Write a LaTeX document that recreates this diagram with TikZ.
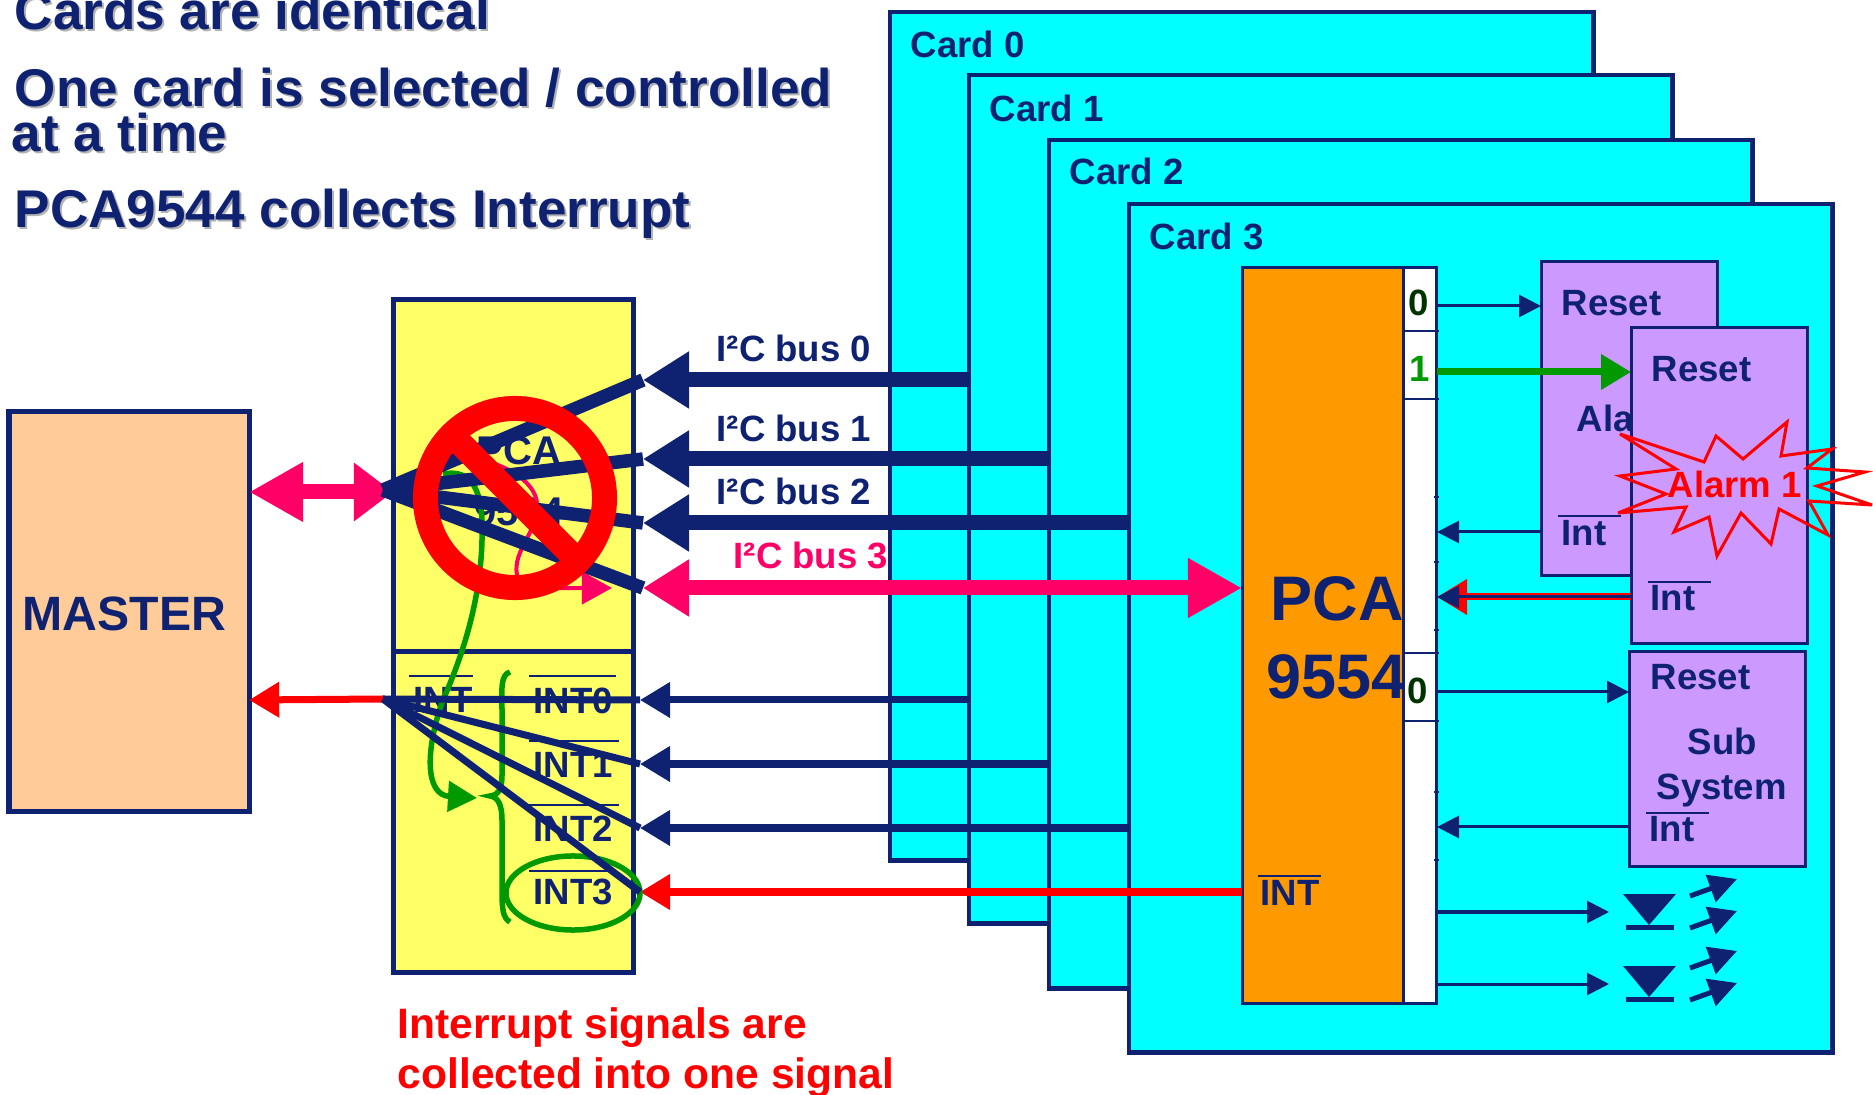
\documentclass[tikz,border=0pt]{standalone}
\usepackage{fontspec}
\setmainfont{Liberation Sans}
\usetikzlibrary{arrows.meta, shapes.geometric}
\definecolor{navy}{HTML}{0F2272}
\definecolor{cardcyan}{HTML}{00FFFF}
\definecolor{pinkish}{HTML}{FF0066}
\definecolor{greenish}{HTML}{009900}
\definecolor{darkgreen}{HTML}{003300}
\definecolor{peach}{HTML}{FFCC99}
\definecolor{paleyellow}{HTML}{FFFF66}
\definecolor{chiporange}{HTML}{FF9900}
\definecolor{purplish}{HTML}{CC99FF}
\begin{document}
\begin{tikzpicture}[x=0.01cm, y=-0.01cm,
    box/.style={draw=navy, inner sep=0pt, outer sep=0pt, anchor=north west},
    cardbox/.style={box, fill=cardcyan, line width=0.045cm, minimum width=7.03cm, minimum height=8.48cm},
    subbox/.style={box, fill=purplish, line width=0.03cm},
    lbl/.style={anchor=base west, inner sep=0pt, text=navy, font=\bfseries\fontsize{10.4pt}{12pt}\selectfont},
    titletxt/.style={lbl, font=\bfseries\fontsize{15.1pt}{18pt}\selectfont},
    titleshade/.style={titletxt, text=black!30},
    redtxt/.style={lbl, text=red, font=\bfseries\fontsize{12.1pt}{15pt}\selectfont},
    bigtxt/.style={lbl, font=\bfseries\fontsize{17.9pt}{21pt}\selectfont},
    barline/.style={navy, line width=0.025cm},
    thinarrow/.style={navy, line width=0.03cm, -{Triangle[length=0.22cm, width=0.22cm]}},
    midarrow/.style={line width=0.07cm, -{Triangle[length=0.3cm, width=0.34cm]}},
    busarrow/.style={line width=0.15cm, -{Triangle[length=0.46cm, width=0.54cm]}},
    fanthick/.style={navy, line width=0.135cm},
    fanthin/.style={navy, line width=0.07cm},
    greencurve/.style={greenish, line width=0.055cm},
    ledray/.style={navy, line width=0.05cm, -{Triangle[length=0.28cm, width=0.28cm]}}]
  \useasboundingbox (0,0) rectangle (1873,1095);
  \clip (0,0) rectangle (1873,1095);

  % title lines with their grey shadow
  \foreach \n/\x/\y/\t in {0/14/30/{Cards are identical}, 1/14/107/{One card is selected / controlled},
                           2/11/152/{at a time}, 3/14/228/{PCA9544 collects Interrupt}} {
    \node[titleshade] (shade\n) at ({\x+2},{\y+2}) {\t};
    \node[titletxt]   (title\n) at (\x,\y) {\t};}

  % the four cards, back to front
  \foreach \n/\x/\y/\b in {0/890/12/58, 1/969/75/122, 2/1049/140/185, 3/1129/204/250} {
    \node[cardbox] (card\n) at (\x,\y) {};
    \node[lbl] (cardlbl\n) at ({\x+20},\b) {Card \n};}

  % the chip on card 3 and its output strip
  \node[box, fill=chiporange, line width=0.03cm, minimum width=1.61cm, minimum height=7.35cm] (chip) at (1242,268) {};
  \node[bigtxt] (chipa) at (1270,621) {PCA};
  \node[bigtxt] (chipb) at (1266,699) {9554};
  \node[box, fill=white, line width=0.03cm, minimum width=0.33cm, minimum height=7.35cm] (strip) at (1403,268) {};
  \foreach \y in {331, 399, 653, 721}
    \draw[barline] (1403,\y) -- (1439,\y);
  \foreach \y in {497, 562, 630, 792, 860}
    \draw[barline] (1434,\y) -- (1439,\y);
  \node[lbl, text=darkgreen] (pin0) at (1408,316) {0};
  \node[lbl, text=greenish]  (pin1) at (1409,382) {1};
  \node[lbl, text=darkgreen] (pin2) at (1407,704) {0};
  \node[lbl] (chipint) at (1260,906) {INT};
  \draw[barline] (1258,876) -- (1321,876);

  % the sub systems
  \node[subbox, minimum width=1.76cm, minimum height=3.13cm] (alarmz) at (1541,262) {};
  \node[lbl] (resetz) at (1561,316) {Reset};
  \node[lbl] (alaz)   at (1576,432) {Ala};
  \node[lbl] (intz)   at (1561,546) {Int};
  \draw[barline] (1558,516) -- (1621,516);
  \node[subbox, minimum width=1.76cm, minimum height=3.15cm] (alarma) at (1631,328) {};
  \node[lbl] (reseta) at (1651,382) {Reset};
  \node[lbl] (inta)   at (1650,611) {Int};
  \draw[barline] (1648,582) -- (1711,582);
  \node[subbox, minimum width=1.76cm, minimum height=2.14cm] (subsys) at (1629,652) {};
  \node[lbl] (resets) at (1650,690) {Reset};
  \node[lbl] (subs)   at (1687,755) {Sub};
  \node[lbl] (syss)   at (1656,800) {System};
  \node[lbl] (ints)   at (1649,841) {Int};
  \draw[barline] (1646,813) -- (1709,813);

  % lines between the strip and the sub systems
  \coordinate (sz) at (1437,306);
  \coordinate (sa) at (1437,372);
  \coordinate (iz) at (1437,532);
  \coordinate (ia) at (1437,597);
  \coordinate (ss) at (1437,692);
  \coordinate (is) at (1437,827);
  \coordinate (led0) at (1609,912);
  \coordinate (led1) at (1609,984);
  \draw[thinarrow] (sz) -- (sz -| alarmz.west);
  \draw[midarrow, greenish] (sa) -- (sa -| alarma.west);
  \draw[thinarrow] (iz -| alarmz.west) -- (iz);
  \draw[midarrow, red] (ia -| alarma.west) -- (ia);
  \draw[thinarrow] (ia -| alarma.west) -- (ia);
  \draw[thinarrow] (ss) -- (ss -| subsys.west);
  \draw[thinarrow] (is -| subsys.west) -- (is);
  \draw[thinarrow] (led0 -| strip.east) -- (led0);
  \draw[thinarrow] (led1 -| strip.east) -- (led1);

  % two LEDs and their rays
  \foreach \o in {0, 72} {
    \fill[navy] (1623,{894+\o}) -- (1676,{894+\o}) -- (1649,{925+\o}) -- cycle;
    \fill[navy] (1626,{925+\o}) rectangle (1674,{930+\o});}
  \foreach \o in {0, 32, 72, 104}
    \draw[ledray] (1690,{896+\o}) -- (1737,{879+\o});

  % alarm burst on top of the front box
  \draw[red, line width=0.03cm, line join=miter, miter limit=6]
    (1620,434) -- (1704,462) -- (1716,436) -- (1743,459) -- (1787,422) -- (1781,456) -- (1832,449) -- (1807,468)
    -- (1865,472) -- (1817,486) -- (1872,505) -- (1809,501) -- (1828,535) -- (1779,509) -- (1771,544) -- (1741,513)
    -- (1717,556) -- (1709,517) -- (1674,532) -- (1686,507) -- (1618,513) -- (1666,494) -- (1620,476) -- (1676,469) -- cycle;
  \node[lbl, text=red] (alarmtxt) at (1667,498) {Alarm 1};

  % master and the switch with its interrupt part
  \node[box, fill=peach, line width=0.05cm, minimum width=2.4cm, minimum height=3.99cm] (master) at (9,412) {};
  \node[lbl, font=\bfseries\fontsize{13.7pt}{16pt}\selectfont] (mastertxt) at (22,631) {MASTER};
  \node[box, fill=paleyellow, line width=0.05cm, minimum width=2.4cm, minimum height=3.52cm] (mux) at (393,300) {};
  \node[box, fill=paleyellow, line width=0.05cm, minimum width=2.4cm, minimum height=3.2cm] (muxint) at (393,652) {};
  \node[lbl, font=\bfseries\fontsize{11.4pt}{14pt}\selectfont] (muxa) at (476,465) {PCA};
  \node[lbl, font=\bfseries\fontsize{11.4pt}{14pt}\selectfont] (muxb) at (474,526) {9544};
  \node[lbl] (intout) at (413,713) {INT};
  \draw[barline] (409,676) -- (473,676);
  \foreach \n/\y/\b/\r in {0/714/676/616, 1/778/741/619, 2/842/805/619, 3/905/871/607} {
    \node[lbl] (int\n) at (533,\y) {INT\n};
    \draw[barline] (529,\b) -- (\r,\b);}

  % I2C buses
  \coordinate (bus0) at (643,380);
  \coordinate (bus1) at (643,459);
  \coordinate (bus2) at (643,523);
  \coordinate (bus3) at (643,588);
  \coordinate (irq0) at (640,700);
  \coordinate (irq1) at (640,764);
  \coordinate (irq2) at (640,828);
  \coordinate (irq3) at (640,892);
  \coordinate (mlink) at (0,492);
  \coordinate (mirq) at (0,700);
  \coordinate (hub) at (383,490);
  \coordinate (hubint) at (383,699);
  \node[lbl] (buslbl0) at (716,362) {I²C bus 0};
  \node[lbl] (buslbl1) at (716,442) {I²C bus 1};
  \node[lbl] (buslbl2) at (716,505) {I²C bus 2};
  \node[lbl, text=pinkish] (buslbl3) at (733,569) {I²C bus 3};
  \draw[busarrow, navy] (bus0 -| card1.west) -- (bus0);
  \draw[busarrow, navy] (bus1 -| card2.west) -- (bus1);
  \draw[busarrow, navy] (bus2 -| card3.west) -- (bus2);
  \draw[busarrow, pinkish, {Triangle[length=0.46cm, width=0.54cm]}-{Triangle[length=0.54cm, width=0.56cm]}] (bus3) -- (bus3 -| chip.west);
  \draw[busarrow, pinkish, {Triangle[length=0.54cm, width=0.56cm]}-{Triangle[length=0.39cm, width=0.56cm]}] (mlink -| master.east) -- (mlink -| mux.west);
  \draw[midarrow, navy] (irq0 -| card1.west) -- (irq0);
  \draw[midarrow, navy] (irq1 -| card2.west) -- (irq1);
  \draw[midarrow, navy] (irq2 -| card3.west) -- (irq2);
  \draw[midarrow, red] (irq3 -| chip.west) -- (irq3);
  \draw[midarrow, red] (hubint) -- (mirq -| master.east);

  % paths inside the switch
  \draw[pinkish, line width=0.04cm, -{Triangle[length=0.3cm, width=0.32cm]}] (463,457) .. controls (500,460) and (535,480) .. (537,503)
    .. controls (540,530) and (512,550) .. (517,575) .. controls (520,590) and (545,588) .. (612,588);
  \draw[greencurve, -{Triangle[length=0.29cm, width=0.3cm]}] (443,474) .. controls (465,470) and (480,480) .. (482,520)
    .. controls (484,590) and (465,650) .. (443,700) .. controls (425,750) and (425,795) .. (477,798);
  \draw[greencurve] (510,672) .. controls (500,675) and (502,690) .. (502,710) -- (502,775) .. controls (502,790) and (498,795) .. (490,796)
    .. controls (498,797) and (502,805) .. (502,820) -- (502,890) .. controls (502,910) and (503,918) .. (510,922);
  \node[draw=greenish, line width=0.055cm, ellipse, inner sep=0pt, minimum width=1.34cm, minimum height=0.74cm] (circled) at (573,893) {};
  \foreach \e in {bus0, bus1, bus2, bus3}
    \draw[fanthick] (hub) -- (\e);
  \foreach \e in {irq0, irq1, irq2, irq3}
    \draw[fanthin] (hubint) -- (\e);

  % crossed out
  \node[circle, draw=red, line width=0.25cm, inner sep=0pt, outer sep=0pt, minimum size=1.79cm] (nosign) at (515,498) {};
  \draw[red, line width=0.25cm] (nosign.north west) -- (nosign.south east);

  \node[redtxt] (noteone) at (397,1038) {Interrupt signals are};
  \node[redtxt] (notetwo) at (397,1088) {collected into one signal};
\end{tikzpicture}
\end{document}
